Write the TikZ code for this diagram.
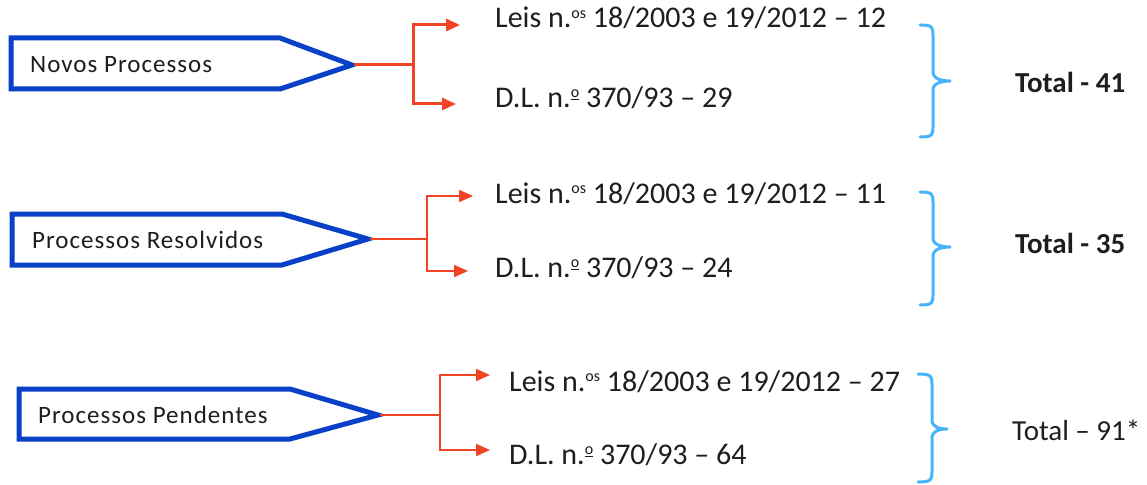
\documentclass[tikz,border=0pt]{standalone}
\usepackage{fontspec}
\setmainfont{Carlito}
\newfontfamily\boxfont[LetterSpace=4]{Carlito}
\usetikzlibrary{arrows.meta}
\definecolor{boxblue}{HTML}{0840C8}
\definecolor{connred}{HTML}{F04424}
\definecolor{bracecol}{HTML}{46B4FA}
\definecolor{txt}{HTML}{1E1E1E}
\newcommand{\nos}{n.{\fontsize{16}{16}\selectfont\raisebox{9.5pt}{os}}}
\newcommand{\nor}{n.{\fontsize{16}{16}\selectfont\raisebox{9.5pt}{\underline{o}}}}
\tikzset{
  procbox/.style={draw=boxblue, line width=5pt, line join=miter, fill=white},
  boxlabel/.style={anchor=west, inner sep=0pt, font=\boxfont\fontsize{25}{28}\selectfont, text=txt},
  lawlabel/.style={anchor=base west, inner sep=0pt, font=\fontsize{30}{33}\selectfont, text=txt},
  totallabel/.style={anchor=west, inner sep=0pt, font=\fontsize{29}{32}\selectfont, text=txt},
  conn/.style={draw=connred, line width=2pt},
  connarrow/.style={conn, -{Triangle[length=14pt,width=12pt]}},
  bracepath/.style={draw=bracecol, line width=3pt, line cap=round, line join=round}
}
\newcommand{\bracebar}[7]{%
  \draw[bracepath] (#1,#4) .. controls (#2,#4) and (#2,#4+2) .. (#2,#4+12)
    -- (#2,#5-9) .. controls (#2,#5-2) and (#3-8,#5) .. (#3,#5)
    .. controls (#3-8,#5) and (#2,#5+2) .. (#2,#5+9)
    -- (#2,#6-12) .. controls (#2,#6-2) and (#2,#6) .. (#1,#6);
  \coordinate (#7) at (#3,#5);
}
\begin{document}
\begin{tikzpicture}[x=1pt,y=-1pt]
\useasboundingbox[fill=white] (0,0) rectangle (1147,484);

% ---------- Row 1 ----------
\draw[procbox] (11,38) -- (280,38) -- (352,65) -- (280,89) -- (11,89) -- cycle;
\coordinate (t1) at (354,65);
\node[boxlabel] (b1) at (30,65) {Novos Processos};
\coordinate (j1) at (413,65);
\coordinate (a1) at (460,25);
\coordinate (c1) at (456,104);
\node[lawlabel] (l1) at (495,28) {Leis \nos{} 18/2003 e 19/2012 – 12};
\node[lawlabel] (d1) at (495,107) {D.L. \nor{} 370/93 – 29};
\draw[conn, line width=3pt] (t1) -- (j1);
\draw[connarrow, line width=3pt] (j1) |- (a1);
\draw[connarrow, line width=3pt] (j1) |- (c1);
\bracebar{920}{933}{950}{25}{81}{137}{br1}
\node[totallabel, font=\bfseries\fontsize{29}{32}\selectfont] (tot1) at (1015,82) {Total - 41};

% ---------- Row 2 ----------
\draw[procbox] (12,214) -- (282,214) -- (368,239) -- (282,265) -- (12,265) -- cycle;
\coordinate (t2) at (370,239);
\node[boxlabel] (b2) at (32,240) {Processos Resolvidos};
\coordinate (j2) at (427,239);
\coordinate (a2) at (473,196);
\coordinate (c2) at (468,271);
\node[lawlabel] (l2) at (495,203) {Leis \nos{} 18/2003 e 19/2012 – 11};
\node[lawlabel] (d2) at (495,277) {D.L. \nor{} 370/93 – 24};
\draw[conn] (t2) -- (j2);
\draw[connarrow] (j2) |- (a2);
\draw[connarrow] (j2) |- (c2);
\bracebar{920}{933}{950}{192}{247}{305}{br2}
\node[totallabel, font=\bfseries\fontsize{29}{32}\selectfont] (tot2) at (1015,243) {Total - 35};

% ---------- Row 3 ----------
\draw[procbox] (19,389) -- (290,389) -- (378,415) -- (290,439) -- (19,439) -- cycle;
\coordinate (t3) at (380,415);
\node[boxlabel] (b3) at (38,415) {Processos Pendentes};
\coordinate (j3) at (440,415);
\coordinate (a3) at (490,375);
\coordinate (c3) at (490,450);
\node[lawlabel] (l3) at (509,391) {Leis \nos{} 18/2003 e 19/2012 – 27};
\node[lawlabel] (d3) at (509,464) {D.L. \nor{} 370/93 – 64};
\draw[conn] (t3) -- (j3);
\draw[connarrow] (j3) |- (a3);
\draw[connarrow] (j3) |- (c3);
\bracebar{918}{932}{947}{374}{429}{482}{br3}
\node[totallabel] (tot3) at (1012,430) {Total – 91*};
\end{tikzpicture}
\end{document}
